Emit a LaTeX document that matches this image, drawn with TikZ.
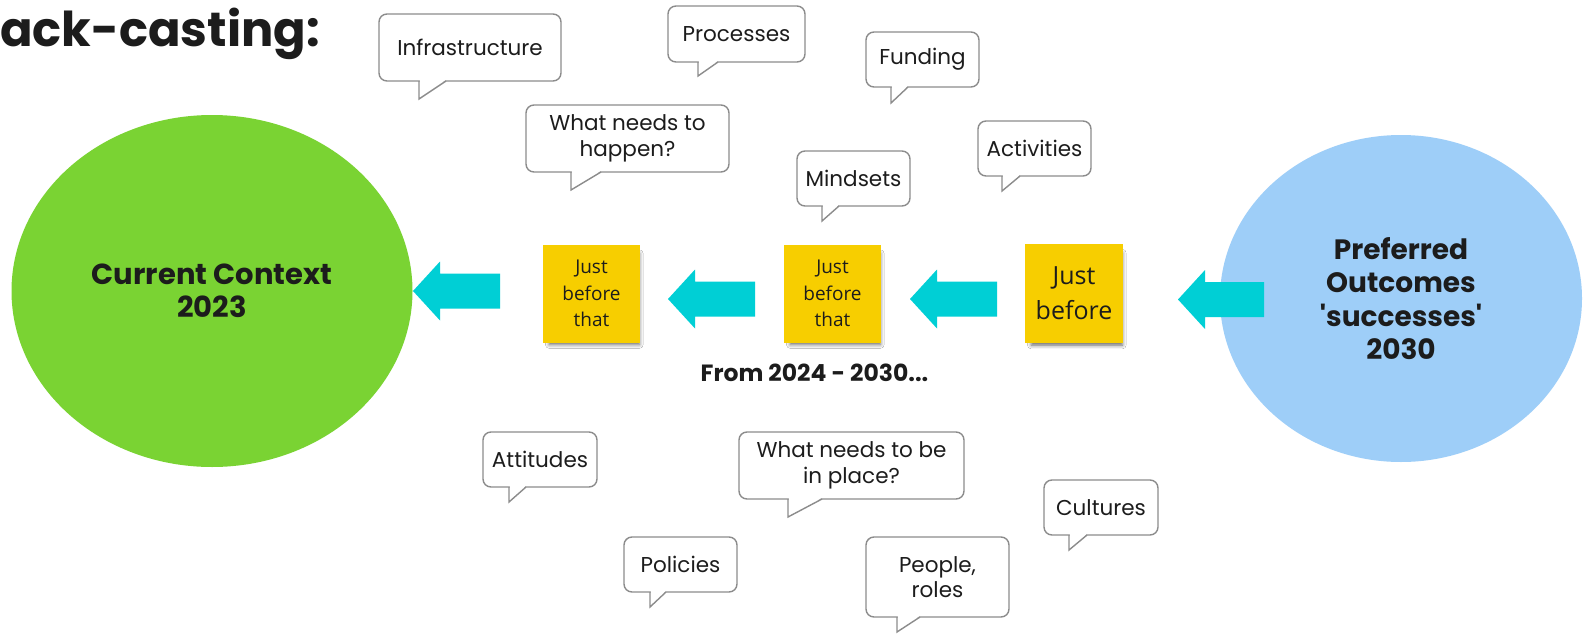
\documentclass[tikz,border=0pt]{standalone}
\usepackage{fontspec}
\newfontfamily\popfont{Poppins}
\newfontfamily\osfont{Open Sans}
\usetikzlibrary{shapes.geometric,shadows.blur}
\definecolor{grn}{RGB}{122,211,51}
\definecolor{blu}{RGB}{158,206,248}
\definecolor{cyn}{RGB}{0,207,213}
\definecolor{yel}{RGB}{247,206,0}
\definecolor{txt}{RGB}{28,28,28}
\definecolor{bubgray}{RGB}{140,140,140}
\tikzset{
  bubble/.style={rectangle, rounded corners=8pt, draw=bubgray, line width=1.4pt, fill=white,
    inner sep=0pt, align=center, text=txt, font=\popfont\fontsize{21.5}{25.5}\selectfont},
  bubline/.style={draw=bubgray, line width=1.4pt, line join=miter},
  note/.style={rectangle, fill=yel, minimum width=97pt, minimum height=98pt, inner sep=0pt,
    align=center, text=txt,
    blur shadow={shadow xshift=3pt, shadow yshift=-6pt, shadow blur radius=4pt, shadow opacity=60, shadow scale=0.93}},
  bigtext/.style={align=center, text=txt, inner sep=0pt},
  arrowfill/.style={fill=cyn}
}
\newcommand\bub[9]{%
  \node[bubble, minimum width={(#4-#2)*1pt}, minimum height={(#5-#3)*1pt}] (#1) at ({(#2+#4)/2},{(#3+#5)/2}) {#9};
  \fill[white] (#6+0.9,#5-1.3) -- (#6+0.9,#7) -- (#8,#5-1.3) -- cycle;
  \draw[bubline] (#6,#5) -- (#6,#7) -- (#8,#5);
}
\newcommand\barrow[4]{%
  \fill[arrowfill] (#2,#3) -- (#2+27,#3-29.5) -- (#2+27,#3-17.5) -- (#4,#3-17.5) -- (#4,#3+17.5) -- (#2+27,#3+17.5) -- (#2+27,#3+29.5) -- cycle;
  \coordinate (#1) at (#2,#3);
}
\begin{document}
\begin{tikzpicture}[x=1pt,y=-1pt]
\useasboundingbox (0,0) rectangle (1585,637);
\fill[white] (0,0) rectangle (1585,637);

% title
\node[anchor=base west, inner sep=0pt, text=txt, font=\popfont\bfseries\fontsize{48}{52}\selectfont] (title) at (0,46) {ack-casting:};

% ellipses
\node[ellipse, fill=grn, minimum width=401pt, minimum height=352pt, bigtext,
  font=\popfont\bfseries\fontsize{29}{33}\selectfont] (cur) at (212,291) {Current Context\\2023};
\node[ellipse, fill=blu, minimum width=362pt, minimum height=327pt, bigtext,
  font=\popfont\bfseries\fontsize{28}{33.3}\selectfont] (pref) at (1401,298.5) {Preferred\\Outcomes\\'successes'\\2030};

% sticky notes
\node[note, font=\osfont\fontsize{19}{26.5}\selectfont] (n1) at (591.5,293.5) {Just\\before\\that};
\node[note, font=\osfont\fontsize{19}{26.5}\selectfont] (n2) at (832.5,293.5) {Just\\before\\that};
\node[note, minimum width=98pt, minimum height=99pt, font=\osfont\fontsize{25}{35}\selectfont] (n3) at (1074,293.5) {Just\\before};

% block arrows
\barrow{a1}{413}{291}{500}
\barrow{a2}{668}{299}{755}
\barrow{a3}{910}{299}{997}
\barrow{a4}{1178}{299.5}{1264}

\node[bigtext, font=\popfont\bfseries\fontsize{23.5}{27}\selectfont] (range) at (814.5,373) {From 2024 - 2030...};

% speech bubbles
\bub{infra}{379}{14}{561}{81}{419}{99}{446}{Infrastructure}
\bub{proc}{668}{6}{805}{62}{698}{76}{718}{Processes}
\bub{fund}{866}{32}{979}{87}{891}{103}{908}{Funding}
\bub{whn}{526}{105}{729}{172}{571}{190}{601}{What needs to\\happen?}
\bub{mind}{797}{151}{910}{206}{822}{221}{839}{Mindsets}
\bub{acti}{978}{121}{1091}{176}{1002}{191}{1020}{Activities}
\bub{atti}{483}{432}{597}{487}{509}{502}{526}{Attitudes}
\bub{wnp}{739}{432}{964}{499}{788}{517}{822}{What needs to be\\in place?}
\bub{cult}{1044}{480}{1158}{535}{1069}{550}{1087}{Cultures}
\bub{poli}{624}{537}{737}{592}{650}{607}{666}{Policies}
\bub{peop}{866}{537}{1009}{617}{897}{632}{920}{People,\\roles}
\end{tikzpicture}
\end{document}
